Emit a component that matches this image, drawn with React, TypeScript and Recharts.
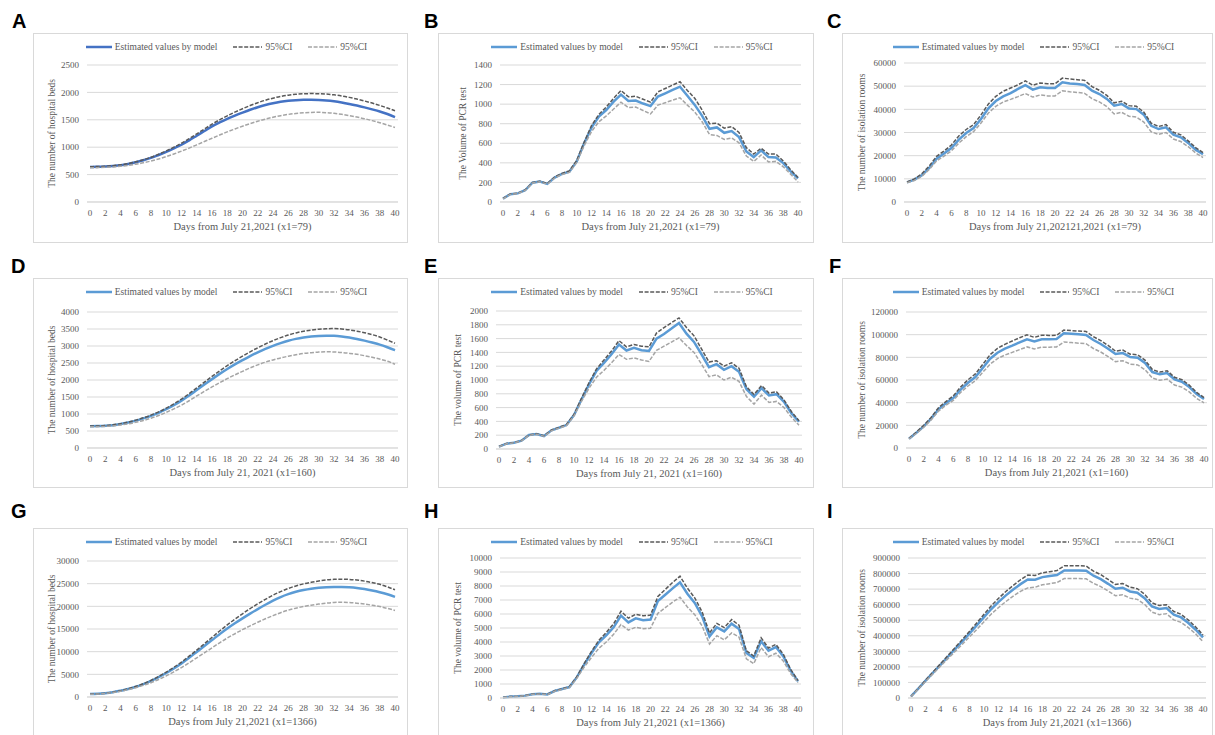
import React from 'react'
import { LineChart, Line, XAxis, YAxis, CartesianGrid } from 'recharts'

// days 0..40 on the x axis
const days = [
  0, 1, 2, 3, 4, 5, 6, 7, 8, 9, 10, 11, 12, 13, 14, 15, 16, 17, 18, 19, 20,
  21, 22, 23, 24, 25, 26, 27, 28, 29, 30, 31, 32, 33, 34, 35, 36, 37, 38, 39, 40,
]

// A: hospital beds, x1=79
const estA = [640, 642, 648, 658, 672, 695, 725, 762, 805, 858, 915, 978, 1045, 1125, 1210, 1295, 1380, 1452, 1518, 1577, 1632, 1684, 1730, 1770, 1803, 1829, 1847, 1858, 1864, 1865, 1861, 1852, 1837, 1816, 1790, 1760, 1727, 1691, 1652, 1605, 1550]
const upA = [645, 647, 653, 663, 678, 701, 733, 772, 818, 872, 933, 1000, 1073, 1155, 1243, 1332, 1420, 1500, 1573, 1640, 1702, 1760, 1812, 1857, 1895, 1926, 1950, 1966, 1975, 1978, 1976, 1969, 1955, 1935, 1909, 1878, 1843, 1805, 1762, 1715, 1665]
const loA = [625, 627, 632, 640, 652, 668, 690, 716, 748, 785, 828, 876, 928, 984, 1043, 1103, 1163, 1222, 1280, 1333, 1383, 1430, 1474, 1513, 1547, 1575, 1598, 1616, 1628, 1635, 1636, 1630, 1618, 1600, 1577, 1550, 1520, 1485, 1447, 1405, 1360]

// B: PCR test, x1=79
const estB = [35, 80, 88, 120, 197, 210, 185, 250, 288, 310, 415, 600, 760, 873, 940, 1025, 1097, 1033, 1036, 1006, 980, 1077, 1111, 1145, 1178, 1085, 992, 880, 748, 762, 707, 725, 663, 516, 459, 527, 459, 455, 398, 313, 241]
const upB = [37, 82, 90, 122, 200, 213, 188, 255, 293, 318, 425, 610, 780, 895, 970, 1060, 1140, 1075, 1080, 1050, 1020, 1125, 1160, 1195, 1230, 1140, 1060, 940, 800, 805, 755, 770, 710, 555, 490, 550, 490, 490, 420, 330, 250]
const loB = [33, 78, 86, 118, 194, 207, 182, 245, 282, 302, 405, 575, 720, 820, 880, 950, 1020, 965, 970, 935, 900, 990, 1015, 1040, 1065, 990, 920, 820, 690, 680, 640, 655, 605, 470, 415, 480, 410, 415, 360, 285, 205]

// C: isolation rooms, x1=79
const estC = [8500, 9640, 11500, 14700, 18700, 20900, 23300, 26900, 29800, 31900, 35800, 40400, 43600, 45600, 47000, 48800, 50400, 48500, 49500, 49200, 49200, 51700, 51200, 50900, 50500, 48100, 46600, 44500, 41600, 42300, 40400, 40100, 37700, 32900, 31500, 32200, 29100, 27900, 25500, 22600, 20600]
const upC = [8700, 10000, 12200, 15500, 19700, 22000, 24600, 28500, 31300, 33400, 37600, 42300, 45600, 47800, 49200, 50600, 52300, 50400, 51400, 51000, 51000, 53500, 53100, 52800, 52500, 49800, 48200, 46000, 42800, 43500, 41600, 41300, 38800, 34000, 32600, 33400, 30100, 29000, 26400, 23500, 21300]
const loC = [8300, 9300, 11000, 14000, 17800, 19800, 22100, 25400, 28200, 30400, 34100, 38400, 41300, 43200, 44300, 45500, 46800, 45300, 46200, 45800, 45800, 48000, 47600, 47300, 46900, 44600, 43200, 41200, 38000, 38700, 37000, 36700, 34500, 30300, 29200, 30000, 27200, 26100, 23900, 21200, 19200]

// D: hospital beds, x1=160
const estD = [640, 645, 655, 672, 705, 750, 805, 870, 945, 1035, 1140, 1260, 1395, 1545, 1705, 1865, 2025, 2180, 2325, 2460, 2585, 2705, 2815, 2915, 3005, 3085, 3155, 3210, 3250, 3278, 3295, 3303, 3300, 3282, 3250, 3208, 3158, 3102, 3040, 2962, 2875]
const upD = [645, 650, 662, 682, 715, 762, 820, 888, 968, 1062, 1172, 1298, 1440, 1598, 1767, 1936, 2105, 2268, 2422, 2566, 2700, 2828, 2948, 3058, 3158, 3246, 3322, 3385, 3432, 3468, 3492, 3508, 3512, 3500, 3475, 3437, 3390, 3335, 3265, 3175, 3080]
const loD = [625, 628, 635, 650, 675, 710, 755, 810, 875, 955, 1050, 1150, 1260, 1390, 1530, 1665, 1795, 1920, 2040, 2150, 2255, 2355, 2445, 2525, 2590, 2650, 2700, 2745, 2780, 2805, 2820, 2830, 2825, 2810, 2785, 2755, 2715, 2670, 2615, 2550, 2465]

// E: PCR test, x1=160
const estE = [34, 77, 92, 120, 202, 217, 188, 270, 308, 347, 492, 718, 935, 1133, 1248, 1373, 1513, 1427, 1465, 1431, 1422, 1600, 1667, 1745, 1827, 1672, 1552, 1373, 1186, 1229, 1147, 1200, 1118, 867, 757, 882, 776, 795, 684, 516, 395]
const upE = [36, 79, 94, 122, 205, 220, 191, 275, 313, 355, 500, 735, 960, 1160, 1290, 1420, 1570, 1480, 1515, 1490, 1480, 1680, 1760, 1830, 1900, 1760, 1640, 1450, 1260, 1280, 1200, 1250, 1170, 900, 790, 920, 810, 830, 710, 540, 410]
const loE = [32, 75, 90, 118, 199, 214, 185, 265, 303, 340, 480, 690, 880, 1040, 1140, 1250, 1370, 1300, 1320, 1290, 1270, 1430, 1490, 1550, 1610, 1500, 1400, 1230, 1050, 1075, 1000, 1040, 980, 760, 650, 780, 675, 690, 600, 460, 345]

// F: isolation rooms, x1=160
const estF = [8200, 13500, 19100, 25900, 34100, 39400, 44100, 51500, 57600, 62600, 70600, 78800, 84100, 87600, 90300, 93200, 95900, 94100, 95900, 95900, 96200, 101200, 100900, 100300, 99700, 95300, 91800, 87600, 82900, 83800, 80300, 79700, 75000, 67000, 65000, 66200, 60600, 58500, 53800, 47600, 43200]
const upF = [8400, 14000, 20000, 27000, 35500, 41000, 46000, 53800, 60200, 65400, 73800, 82300, 87900, 91500, 94400, 97300, 99800, 97600, 99500, 99300, 99500, 104000, 103600, 103200, 102800, 98200, 94800, 90500, 85500, 86400, 82800, 82300, 77500, 69200, 67000, 68200, 62400, 60300, 55500, 49000, 44500]
const loF = [8000, 13000, 18300, 24800, 32600, 37700, 42000, 49000, 54700, 59400, 66800, 74000, 78900, 82000, 84400, 86800, 89200, 87400, 89000, 89000, 89200, 93500, 93000, 92500, 92000, 87800, 84700, 80700, 76200, 77000, 74000, 73300, 69100, 61700, 59700, 60800, 55600, 53700, 49500, 43800, 39800]

// G: hospital beds, x1=1366
const estG = [650, 700, 830, 1050, 1380, 1760, 2250, 2850, 3560, 4380, 5300, 6300, 7400, 8650, 9950, 11250, 12550, 13850, 15100, 16250, 17350, 18400, 19400, 20350, 21250, 22050, 22700, 23200, 23600, 23900, 24100, 24230, 24290, 24280, 24200, 24050, 23800, 23480, 23100, 22650, 22100]
const upG = [660, 710, 845, 1070, 1410, 1800, 2310, 2930, 3660, 4520, 5490, 6540, 7700, 9000, 10350, 11750, 13150, 14550, 15900, 17150, 18350, 19500, 20550, 21550, 22450, 23250, 23950, 24500, 24950, 25300, 25600, 25820, 25960, 26000, 25950, 25800, 25560, 25240, 24850, 24300, 23650]
const loG = [620, 660, 780, 985, 1270, 1620, 2050, 2560, 3150, 3850, 4650, 5550, 6500, 7550, 8650, 9750, 10850, 11950, 13000, 13950, 14850, 15700, 16500, 17250, 17950, 18600, 19150, 19600, 19950, 20250, 20500, 20700, 20850, 20900, 20850, 20700, 20500, 20250, 19950, 19550, 19100]

// H: PCR test, x1=1366
const estH = [40, 100, 120, 170, 270, 300, 250, 500, 640, 780, 1470, 2380, 3210, 3980, 4480, 5050, 5880, 5400, 5690, 5550, 5600, 6930, 7380, 7830, 8260, 7450, 6790, 5830, 4400, 5050, 4760, 5310, 4930, 3210, 2860, 4050, 3380, 3640, 2980, 1950, 1190]
const upH = [42, 104, 125, 176, 278, 308, 258, 515, 660, 805, 1500, 2450, 3330, 4120, 4680, 5300, 6200, 5700, 5980, 5870, 5920, 7250, 7750, 8250, 8700, 7850, 7150, 6150, 4650, 5330, 5030, 5600, 5200, 3370, 3000, 4300, 3570, 3830, 3130, 2050, 1250]
const loH = [38, 95, 115, 163, 260, 290, 240, 480, 615, 750, 1400, 2200, 2900, 3550, 4000, 4550, 5250, 4850, 5050, 4950, 4980, 6050, 6450, 6850, 7200, 6500, 5950, 5150, 3850, 4450, 4150, 4650, 4350, 2800, 2450, 3600, 2950, 3200, 2650, 1750, 1100]

// I: isolation rooms, x1=1366
const estI = [10000, 60000, 112000, 162000, 212000, 262000, 312000, 362000, 414000, 466000, 520000, 572000, 618000, 660000, 697000, 732000, 762000, 760000, 777000, 784000, 790000, 820000, 820000, 820000, 818000, 786000, 764000, 734000, 702000, 709000, 685000, 677000, 642000, 589000, 572000, 578000, 535000, 518000, 482000, 439000, 390000]
const upI = [10000, 61000, 115000, 166000, 218000, 270000, 322000, 374000, 428000, 482000, 538000, 593000, 641000, 685000, 724000, 760000, 790000, 788000, 805000, 812000, 820000, 850000, 850000, 850000, 848000, 815000, 793000, 762000, 730000, 736000, 712000, 703000, 667000, 612000, 594000, 600000, 556000, 538000, 501000, 457000, 405000]
const loI = [9500, 58000, 107000, 155000, 203000, 250000, 297000, 344000, 392000, 440000, 490000, 540000, 582000, 620000, 655000, 686000, 708000, 712000, 728000, 735000, 742000, 768000, 768000, 768000, 766000, 737000, 716000, 688000, 658000, 664000, 642000, 634000, 602000, 552000, 536000, 542000, 502000, 486000, 452000, 412000, 362000]

// y axis ticks
const bedTicksA = [0, 500, 1000, 1500, 2000, 2500]
const pcrTicksB = [0, 200, 400, 600, 800, 1000, 1200, 1400]
const roomTicksC = [0, 10000, 20000, 30000, 40000, 50000, 60000]
const bedTicksD = [0, 500, 1000, 1500, 2000, 2500, 3000, 3500, 4000]
const pcrTicksE = [0, 200, 400, 600, 800, 1000, 1200, 1400, 1600, 1800, 2000]
const roomTicksF = [0, 20000, 40000, 60000, 80000, 100000, 120000]
const bedTicksG = [0, 5000, 10000, 15000, 20000, 25000, 30000]
const pcrTicksH = [0, 1000, 2000, 3000, 4000, 5000, 6000, 7000, 8000, 9000, 10000]
const roomTicksI = [0, 100000, 200000, 300000, 400000, 500000, 600000, 700000, 800000, 900000]

const SERIF = '"Liberation Serif", "Times New Roman", serif'
const GREY = '#595959'
const DARK = '#595959'
const LIGHT = '#a5a5a5'
const GRID = '#d9d9d9'

type PanelCfg = {
  letter: string
  lx: number
  ly: number
  left: number
  top: number
  width: number
  x0: number
  x1: number
  yTop: number
  yBot: number
  est: number[]
  up: number[]
  lo: number[]
  ticks: number[]
  yLabel: string
  yOff: number
  xLabel: string
  blue: string
  curve: 'monotone' | 'linear'
}

const H = 210

const panels: PanelCfg[] = [
  { letter: 'A', lx: 12, ly: 11, left: 33, top: 33, width: 375, x0: 90, x1: 395, yTop: 65, yBot: 202, est: estA, up: upA, lo: loA, ticks: bedTicksA, yLabel: 'The number of hospital beds', yOff: 19, xLabel: 'Days from July 21,2021 (x1=79)', blue: '#4472c4', curve: 'monotone' },
  { letter: 'B', lx: 424, ly: 11, left: 438, top: 33, width: 376, x0: 503, x1: 798, yTop: 65, yBot: 202, est: estB, up: upB, lo: loB, ticks: pcrTicksB, yLabel: 'The Volume of PCR test', yOff: 25, xLabel: 'Days from July 21,2021 (x1=79)', blue: '#5b9bd5', curve: 'linear' },
  { letter: 'C', lx: 827, ly: 11, left: 842, top: 33, width: 371, x0: 907, x1: 1203, yTop: 63, yBot: 202, est: estC, up: upC, lo: loC, ticks: roomTicksC, yLabel: 'The number of isolation rooms', yOff: 20, xLabel: 'Days from July 21,202121,2021 (x1=79)', blue: '#5b9bd5', curve: 'linear' },
  { letter: 'D', lx: 11, ly: 256, left: 33, top: 278, width: 375, x0: 90, x1: 395, yTop: 312, yBot: 448, est: estD, up: upD, lo: loD, ticks: bedTicksD, yLabel: 'The number of  hospital beds', yOff: 19, xLabel: 'Days from July 21, 2021 (x1=160)', blue: '#5b9bd5', curve: 'monotone' },
  { letter: 'E', lx: 424, ly: 256, left: 438, top: 278, width: 376, x0: 499, x1: 799, yTop: 311, yBot: 449, est: estE, up: upE, lo: loE, ticks: pcrTicksE, yLabel: 'The volume of PCR test', yOff: 20, xLabel: 'Days from July 21, 2021 (x1=160)', blue: '#5b9bd5', curve: 'linear' },
  { letter: 'F', lx: 829, ly: 256, left: 842, top: 278, width: 371, x0: 909, x1: 1204, yTop: 312, yBot: 448, est: estF, up: upF, lo: loF, ticks: roomTicksF, yLabel: 'The number of isolation rooms', yOff: 20, xLabel: 'Days from July 21,2021 (x1=160)', blue: '#5b9bd5', curve: 'linear' },
  { letter: 'G', lx: 11, ly: 501, left: 33, top: 528, width: 375, x0: 90, x1: 395, yTop: 561, yBot: 697, est: estG, up: upG, lo: loG, ticks: bedTicksG, yLabel: 'The number of hospital beds', yOff: 19, xLabel: 'Days from July 21,2021 (x1=1366)', blue: '#5b9bd5', curve: 'monotone' },
  { letter: 'H', lx: 424, ly: 501, left: 438, top: 528, width: 376, x0: 503, x1: 798, yTop: 558, yBot: 698, est: estH, up: upH, lo: loH, ticks: pcrTicksH, yLabel: 'The volume of PCR test', yOff: 20, xLabel: 'Days from July 21,2021 (x1=1366)', blue: '#5b9bd5', curve: 'linear' },
  { letter: 'I', lx: 827, ly: 501, left: 842, top: 528, width: 371, x0: 911, x1: 1203, yTop: 558, yBot: 698, est: estI, up: upI, lo: loI, ticks: roomTicksI, yLabel: 'The number of isolation rooms', yOff: 20, xLabel: 'Days from July 21,2021 (x1=1366)', blue: '#5b9bd5', curve: 'linear' },
]

function Sample({ color, w, dash, width }: { color: string, w: number, dash?: string, width: number }) {
  return (
    <svg width={w} height={6} style={{ display: 'block' }}>
      <line x1={0} y1={3} x2={w} y2={3} stroke={color} strokeWidth={width} strokeDasharray={dash} />
    </svg>
  )
}

function Legend({ blue }: { blue: string }) {
  const txt = { marginLeft: 3, whiteSpace: 'pre' as const }
  return (
    <div style={{ position: 'absolute', left: 6, top: 8, width: '100%', height: 12, display: 'flex', justifyContent: 'center', alignItems: 'center', fontFamily: SERIF, fontSize: 9.5, color: GREY, lineHeight: '12px' }}>
      <Sample color={blue} w={26} width={2.5} />
      <span style={txt}>Estimated values by model</span>
      <span style={{ width: 16 }} />
      <Sample color={DARK} w={29} width={1.5} dash="4 1.6" />
      <span style={txt}>95%CI</span>
      <span style={{ width: 16 }} />
      <Sample color={LIGHT} w={29} width={1.5} dash="4 1.6" />
      <span style={txt}>95%CI</span>
    </div>
  )
}

function Panel({ p }: { p: PanelCfg }) {
  const data = days.map((d, i) => ({ day: d, est: p.est[i], up: p.up[i], lo: p.lo[i] }))
  const pad = 3
  const yAxisW = p.x0 - pad - p.left
  const mTop = p.yTop - p.top
  const xAxisH = H - (p.yBot - p.top)
  const mRight = p.left + p.width - (p.x1 + pad)
  const max = p.ticks[p.ticks.length - 1]
  return (
    <div style={{ position: 'absolute', left: p.left, top: p.top, width: p.width, height: H, background: '#fff', outline: '1px solid #d9d9d9', outlineOffset: -1 }}>
      <LineChart width={p.width} height={H} data={data} margin={{ top: mTop, right: mRight, bottom: 0, left: 0 }} style={{ fontFamily: SERIF }}>
        <CartesianGrid vertical={false} stroke={GRID} />
        <XAxis
          dataKey="day"
          interval={1}
          height={xAxisH}
          padding={{ left: pad, right: pad }}
          axisLine={{ stroke: GRID }}
          tickLine={false}
          tickSize={0}
          tickMargin={8}
          tick={{ fontSize: 9, fill: GREY, fontFamily: SERIF }}
          label={{ value: p.xLabel, position: 'insideBottom', offset: xAxisH - 27.5, fill: GREY, fontSize: 10.5, fontFamily: SERIF }}
        />
        <YAxis
          width={yAxisW}
          domain={[0, max]}
          ticks={p.ticks}
          interval={0}
          axisLine={false}
          tickLine={false}
          tickSize={0}
          tickMargin={8}
          tick={{ fontSize: 9, fill: GREY, fontFamily: SERIF }}
          label={{ value: p.yLabel, angle: -90, position: 'insideLeft', offset: p.yOff, fill: GREY, fontSize: 9.5, fontFamily: SERIF, style: { textAnchor: 'middle' } }}
        />
        <Line type={p.curve} dataKey="est" stroke={p.blue} strokeWidth={2.5} dot={false} activeDot={false} isAnimationActive={false} />
        <Line type={p.curve} dataKey="up" stroke={DARK} strokeWidth={1.5} strokeDasharray="4 1.6" dot={false} activeDot={false} isAnimationActive={false} />
        <Line type={p.curve} dataKey="lo" stroke={LIGHT} strokeWidth={1.5} strokeDasharray="4 1.6" dot={false} activeDot={false} isAnimationActive={false} />
      </LineChart>
      <Legend blue={p.blue} />
    </div>
  )
}

export default function App() {
  return (
    <div style={{ position: 'absolute', left: 0, top: 0, width: 1215, height: 735, background: '#fff', overflow: 'hidden' }}>
      {panels.map(p => <Panel key={p.letter} p={p} />)}
      {panels.map(p => (
        <div key={'l' + p.letter} style={{ position: 'absolute', left: p.lx, top: p.ly, fontFamily: '"Liberation Sans", Arial, sans-serif', fontWeight: 'bold', fontSize: 20, lineHeight: '20px', color: '#000' }}>
          {p.letter}
        </div>
      ))}
    </div>
  )
}
